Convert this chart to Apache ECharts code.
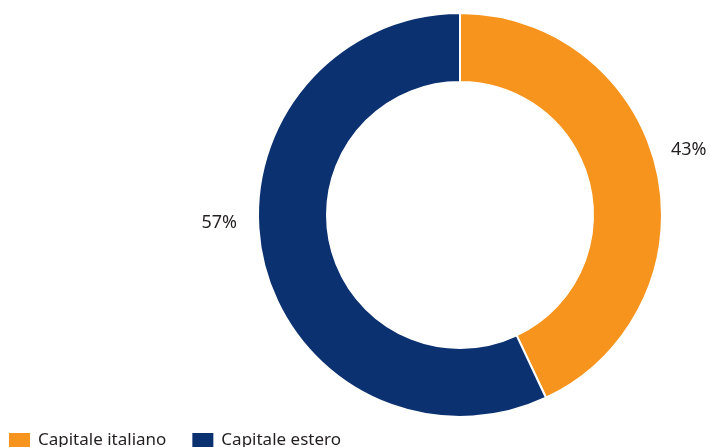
<!DOCTYPE html>
<html>
<head>
<meta charset="utf-8">
<script src="https://cdn.jsdelivr.net/npm/echarts@6/dist/echarts.min.js"></script>
<style>
  html, body { margin: 0; padding: 0; background: #ffffff; }
  #chart { width: 711px; height: 447px; }
</style>
</head>
<body>
<div id="chart"></div>
<script>
const categories = ["Capitale italiano", "Capitale estero"];
const shares = [43, 57];
const colors = ["#F7941D", "#0B3170"];
// label nudges (px) so the percentages sit where the original puts them
const labelShift = [[1, -19], [-13, -38]];

const chart = echarts.init(document.getElementById("chart"));

const option = {
  animation: false,
  color: colors,
  legend: {
    left: 7,
    top: 431,
    padding: 0,
    itemWidth: 23,
    itemHeight: 17,
    itemGap: 24,
    icon: "rect",
    textStyle: {
      fontFamily: "Noto Sans",
      fontSize: 17,
      color: "#231F20",
      padding: [0, 0, 0, 2]
    },
    data: categories
  },
  series: [
    {
      type: "pie",
      center: [460, 215],
      radius: [133, 202],
      startAngle: 90,
      clockwise: true,
      avoidLabelOverlap: false,
      itemStyle: {
        borderColor: "#ffffff",
        borderWidth: 2
      },
      label: {
        show: true,
        position: "outside",
        formatter: "{c}%",
        fontFamily: "Noto Sans",
        fontSize: 18,
        color: "#231F20"
      },
      labelLine: { show: false, length: 8, length2: 0 },
      labelLayout: (p) => ({ dx: labelShift[p.dataIndex][0], dy: labelShift[p.dataIndex][1] }),
      emphasis: { disabled: true },
      data: categories.map((name, i) => ({ name: name, value: shares[i] }))
    }
  ]
};

chart.setOption(option);
</script>
</body>
</html>
